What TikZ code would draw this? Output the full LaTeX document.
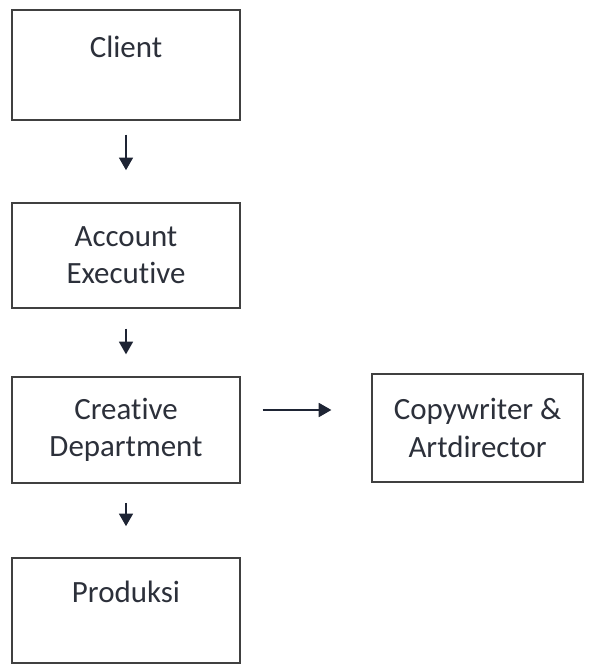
\documentclass[tikz,border=0pt]{standalone}
\usepackage{fontspec}
\setmainfont{Carlito}[Ligatures=NoCommon]
\usetikzlibrary{arrows.meta}
\definecolor{boxline}{HTML}{404040}
\definecolor{boxtext}{HTML}{2C303A}
\definecolor{flowdark}{HTML}{1E2434}

\begin{document}
\begin{tikzpicture}[
    stage/.style={draw=boxline, line width=1pt, fill=white, align=center,
                  minimum width=5.7cm, minimum height=2.65cm, inner sep=0pt,
                  text=boxtext, font=\fontsize{22}{26.5}\selectfont},
    flow/.style={-{Triangle[length=9pt, width=10pt]}, draw=flowdark, line width=1.1pt}
  ]
    \useasboundingbox (0,0) rectangle (14.8,16.625);

    \node[stage, minimum height=2.75cm]  (client)   at (3.15,15.0)   {Client\\~};
    \node[stage, minimum height=2.625cm] (account)  at (3.15,10.24)  {Account\\Executive};
    \node[stage]                         (creative) at (3.15,5.875)  {Creative\\Department};
    \node[stage, minimum height=2.625cm] (produksi) at (3.15,1.36)   {Produksi\\~};
    \node[stage, minimum width=5.275cm, minimum height=2.7cm]
                                         (copy)     at (11.94,5.925) {Copywriter \&\\Artdirector};

    \foreach \a/\b/\s/\e in {client/account/0.35/0.8, account/creative/0.5/0.55,
                             creative/produksi/0.48/0.78}
      \draw[flow, shorten <=\s cm, shorten >=\e cm] (\a) -- (\b);

    \draw[flow, shorten <=0.55cm, shorten >=1.0cm]
      ([yshift=0.5cm]creative.east) -- ([yshift=0.5cm]creative.east -| copy.west);
  \end{tikzpicture}
\end{document}
